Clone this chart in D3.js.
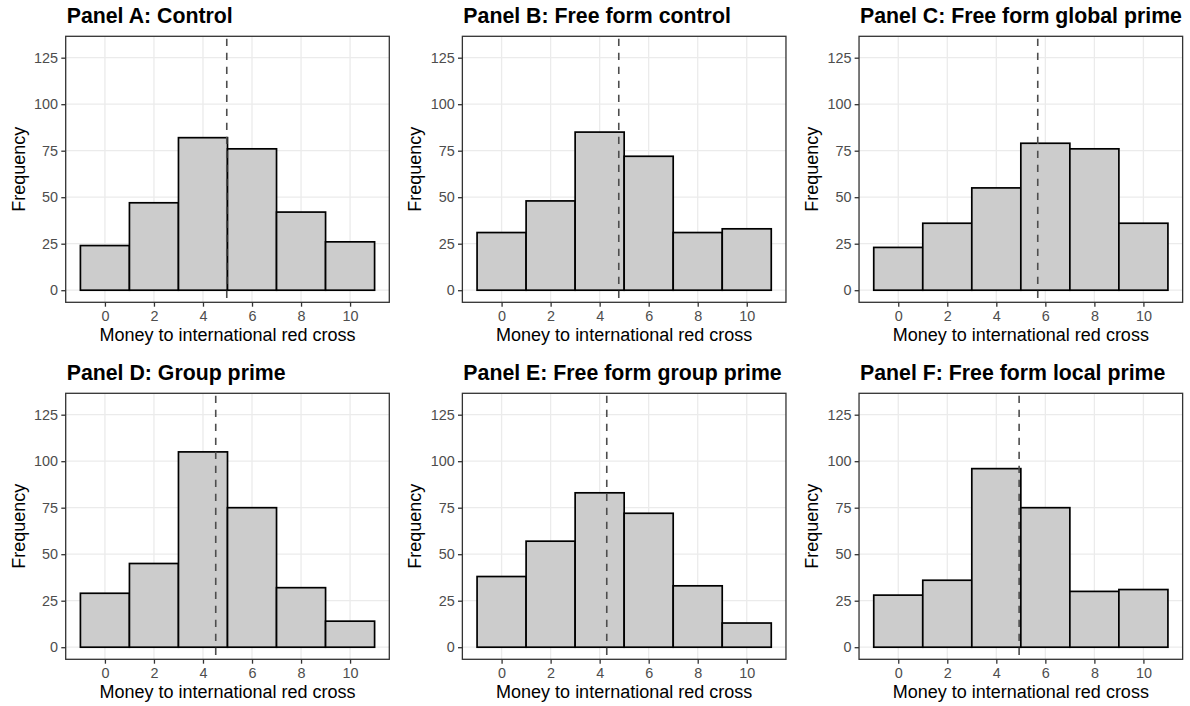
<!DOCTYPE html>
<html>
<head>
<meta charset="utf-8">
<script src="https://cdn.jsdelivr.net/npm/d3@7"></script>
<style>
  html, body { margin: 0; padding: 0; background: #ffffff; }
  svg { display: block; font-family: "Liberation Sans", Arial, sans-serif; }
</style>
</head>
<body>
<svg id="chart" width="1190" height="706"></svg>
<script>
// Histogram bins (bin centres, width 2)
const binCenters = [0, 2, 4, 6, 8, 10];
const binWidth = 2;

// Panel titles
const panelTitles = [
  "Panel A: Control",
  "Panel B: Free form control",
  "Panel C: Free form global prime",
  "Panel D: Group prime",
  "Panel E: Free form group prime",
  "Panel F: Free form local prime"
];

// Counts per bin for each treatment
const countsControl        = [24, 47, 82, 76, 42, 26];
const countsFreeControl    = [31, 48, 85, 72, 31, 33];
const countsFreeGlobal     = [23, 36, 55, 79, 76, 36];
const countsGroup          = [29, 45, 105, 75, 32, 14];
const countsFreeGroup      = [38, 57, 83, 72, 33, 13];
const countsFreeLocal      = [28, 36, 96, 75, 30, 31];

// Mean donation per treatment (dashed reference line)
const meanValues = [4.97, 4.78, 5.69, 4.52, 4.29, 4.93];

// Axis ticks and labels
const xTicks = [0, 2, 4, 6, 8, 10];
const yTicks = [0, 25, 50, 75, 100, 125];
const xLabel = "Money to international red cross";
const yLabel = "Frequency";

const allCounts = [countsControl, countsFreeControl, countsFreeGlobal,
                   countsGroup, countsFreeGroup, countsFreeLocal];

// Layout
const svg = d3.select("#chart");
const W = 1190;
const colW = W / 3;
const plotOffsetX = 65.7;
const plotW = 323.6;
const rowTops = [36.3, 393.3];
const plotH = 266;

const xDomain = [-1.6, 11.6];
const yDomain = [-6.5, 136.5];

const fontTitle = 21.3;
const fontAxisTitle = 18;
const fontTick = 14.4;

panelTitles.forEach((title, i) => {
  const col = i % 3, row = Math.floor(i / 3);
  const left = col * colW + plotOffsetX;
  const top = rowTops[row];
  const counts = allCounts[i];

  const x = d3.scaleLinear().domain(xDomain).range([0, plotW]);
  const y = d3.scaleLinear().domain(yDomain).range([plotH, 0]);

  const g = svg.append("g").attr("transform", `translate(${left},${top})`);

  // background grid (major only)
  g.append("g").selectAll("line.vg").data(xTicks).join("line")
    .attr("x1", d => x(d)).attr("x2", d => x(d))
    .attr("y1", 0).attr("y2", plotH)
    .attr("stroke", "#EBEBEB").attr("stroke-width", 1.3);
  g.append("g").selectAll("line.hg").data(yTicks).join("line")
    .attr("y1", d => y(d)).attr("y2", d => y(d))
    .attr("x1", 0).attr("x2", plotW)
    .attr("stroke", "#EBEBEB").attr("stroke-width", 1.3);

  // bars
  g.append("g").selectAll("rect").data(binCenters.map((c, k) => ({c, n: counts[k]})))
    .join("rect")
    .attr("x", d => x(d.c - binWidth / 2))
    .attr("width", d => x(d.c + binWidth / 2) - x(d.c - binWidth / 2))
    .attr("y", d => y(d.n))
    .attr("height", d => y(0) - y(d.n))
    .attr("fill", "#CCCCCC")
    .attr("stroke", "#000000")
    .attr("stroke-width", 1.7);

  // mean line
  g.append("line")
    .attr("x1", x(meanValues[i])).attr("x2", x(meanValues[i]))
    .attr("y1", 2.4).attr("y2", plotH)
    .attr("stroke", "#4D4D4D").attr("stroke-width", 1.6)
    .attr("stroke-dasharray", "7.2,6.8");

  // panel border
  g.append("rect")
    .attr("x", 0).attr("y", 0).attr("width", plotW).attr("height", plotH)
    .attr("fill", "none").attr("stroke", "#333333").attr("stroke-width", 1.3);

  // x axis
  const xAxis = d3.axisBottom(x).tickValues(xTicks).tickSize(4.4).tickPadding(3.6)
    .tickFormat(d3.format("d"));
  const gx = g.append("g").attr("transform", `translate(0,${plotH})`).call(xAxis);
  gx.select(".domain").remove();
  gx.selectAll(".tick line").attr("stroke", "#333333").attr("stroke-width", 1.3);
  gx.selectAll(".tick text").attr("fill", "#4D4D4D")
    .style("font-size", fontTick + "px").style("font-family", "Liberation Sans, Arial, sans-serif");

  // y axis
  const yAxis = d3.axisLeft(y).tickValues(yTicks).tickSize(4.4).tickPadding(3.2)
    .tickFormat(d3.format("d"));
  const gy = g.append("g").call(yAxis);
  gy.select(".domain").remove();
  gy.selectAll(".tick line").attr("stroke", "#333333").attr("stroke-width", 1.3);
  gy.selectAll(".tick text").attr("fill", "#4D4D4D")
    .style("font-size", fontTick + "px").style("font-family", "Liberation Sans, Arial, sans-serif");

  // axis titles
  g.append("text")
    .attr("x", plotW / 2).attr("y", plotH + 39)
    .attr("text-anchor", "middle")
    .attr("fill", "#000000")
    .style("font-size", fontAxisTitle + "px")
    .text(xLabel);

  g.append("text")
    .attr("transform", `translate(${-41},${plotH / 2}) rotate(-90)`)
    .attr("text-anchor", "middle")
    .attr("fill", "#000000")
    .style("font-size", fontAxisTitle + "px")
    .text(yLabel);

  // panel title
  g.append("text")
    .attr("x", 1).attr("y", -13.2)
    .attr("fill", "#000000")
    .style("font-size", fontTitle + "px")
    .style("font-weight", "bold")
    .text(title);
});
</script>
</body>
</html>
